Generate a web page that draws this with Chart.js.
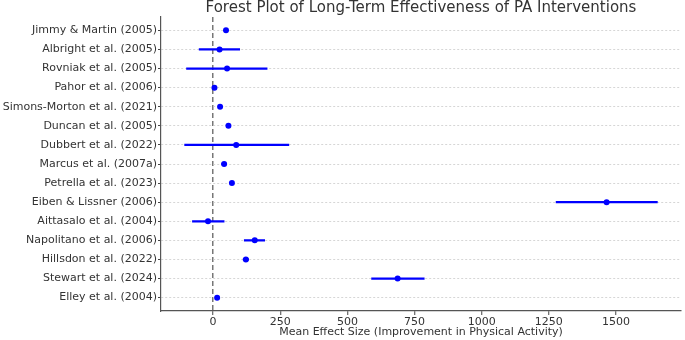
<!DOCTYPE html>
<html>
<head>
<meta charset="utf-8">
<script src="https://cdn.jsdelivr.net/npm/chart.js@4.4.1/dist/chart.umd.min.js"></script>
<style>
html,body{margin:0;padding:0;background:#fff;}
canvas{display:block;}
</style>
</head>
<body>
<canvas id="c" width="685" height="340"></canvas>
<script>
const studies = [
  "Jimmy & Martin (2005)",
  "Albright et al. (2005)",
  "Rovniak et al. (2005)",
  "Pahor et al. (2006)",
  "Simons-Morton et al. (2021)",
  "Duncan et al. (2005)",
  "Dubbert et al. (2022)",
  "Marcus et al. (2007a)",
  "Petrella et al. (2023)",
  "Eiben & Lissner (2006)",
  "Aittasalo et al. (2004)",
  "Napolitano et al. (2006)",
  "Hillsdon et al. (2022)",
  "Stewart et al. (2024)",
  "Elley et al. (2004)"
];
const means = [48, 24, 52, 5, 26, 57, 86, 41, 70, 1465, -19, 155, 122, 687, 15];
const lower = [44, -52, -99, 2, 22, 53, -106, 32, 66, 1277, -77, 116, 112, 590, 11];
const upper = [52, 99, 201, 8, 30, 61, 282, 50, 74, 1654, 41, 192, 132, 786, 19];
const xTicks = [0, 250, 500, 750, 1000, 1250, 1500];

const FONT = "'DejaVu Sans', sans-serif";
const TEXT = '#333333';

const barData = studies.map((s, i) => ({ x: [lower[i], upper[i]], y: i }));
const pointData = studies.map((s, i) => ({ x: means[i], y: i }));

new Chart(document.getElementById('c'), {
  type: 'bar',
  data: {
    datasets: [
      {
        type: 'bar',
        data: barData,
        backgroundColor: '#0000ff',
        borderWidth: 0,
        barThickness: 1.6,
        xAxisID: 'x',
        yAxisID: 'y'
      },
      {
        type: 'scatter',
        data: pointData,
        backgroundColor: '#0000ff',
        borderColor: '#0000ff',
        pointRadius: 3,
        pointBorderWidth: 0,
        showLine: false,
        xAxisID: 'x',
        yAxisID: 'y'
      }
    ]
  },
  options: {
    indexAxis: 'y',
    responsive: false,
    animation: false,
    devicePixelRatio: 1,
    layout: { padding: { left: 0, right: 2, top: 0, bottom: 0 } },
    plugins: {
      legend: { display: false },
      tooltip: { enabled: false },
      title: {
        display: true,
        text: 'Forest Plot of Long-Term Effectiveness of PA Interventions',
        color: TEXT,
        fullSize: false,
        font: { family: FONT, size: 15, weight: 'normal' },
        padding: { top: -1, bottom: 0 }
      }
    },
    scales: {
      x: {
        type: 'linear',
        position: 'bottom',
        min: -194,
        max: 1742,
        offset: false,
        afterBuildTicks: (scale) => { scale.ticks = xTicks.map(v => ({ value: v })); },
        afterFit: (scale) => { scale.height = 29; },
        ticks: {
          color: TEXT,
          font: { family: FONT, size: 11 },
          padding: 1,
          maxRotation: 0,
          autoSkip: false,
          callback: (v) => String(v)
        },
        grid: {
          offset: false,
          color: (ctx) => (ctx.tick && ctx.tick.value === 0) ? '#777777' : 'rgba(0,0,0,0)',
          lineWidth: 1.5,
          tickColor: '#444444',
          tickLength: 4,
          tickWidth: 1,
          drawOnChartArea: true
        },
        border: { display: true, color: '#555555', width: 1.2, dash: [5, 3] },
        title: {
          display: true,
          text: 'Mean Effect Size (Improvement in Physical Activity)',
          color: TEXT,
          font: { family: FONT, size: 11 },
          padding: { top: 0, bottom: 1 }
        }
      },
      y: {
        type: 'linear',
        position: 'left',
        reverse: true,
        min: -0.7,
        max: 14.7,
        offset: false,
        afterBuildTicks: (scale) => { scale.ticks = studies.map((s, i) => ({ value: i })); },
        afterFit: (scale) => { scale.width = 161; },
        ticks: {
          color: TEXT,
          font: { family: FONT, size: 11 },
          padding: 1,
          autoSkip: false,
          callback: (v) => studies[v]
        },
        grid: {
          offset: false,
          color: '#cccccc',
          lineWidth: 0.8,
          tickColor: '#444444',
          tickLength: 3,
          tickWidth: 1
        },
        border: { display: true, color: '#555555', width: 1.2, dash: [2, 2] }
      }
    }
  }
});
</script>
</body>
</html>
